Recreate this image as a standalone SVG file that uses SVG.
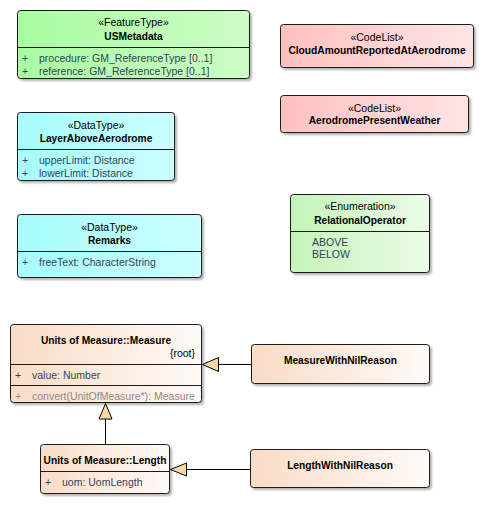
<svg xmlns="http://www.w3.org/2000/svg" width="485" height="523" viewBox="0 0 485 523">
<defs>
<linearGradient id="gFeat" x1="0" y1="0" x2="1" y2="0"><stop offset="0" stop-color="#a8fca0"/><stop offset="1" stop-color="#cdfdc6"/></linearGradient>
<linearGradient id="gCode" x1="0" y1="0" x2="1" y2="0"><stop offset="0" stop-color="#ffc0c0"/><stop offset="1" stop-color="#ffe4e4"/></linearGradient>
<linearGradient id="gData" x1="0" y1="0" x2="1" y2="0"><stop offset="0" stop-color="#a6fcfc"/><stop offset="1" stop-color="#ccffff"/></linearGradient>
<linearGradient id="gEnum" x1="0" y1="0" x2="1" y2="0"><stop offset="0" stop-color="#c4f4b8"/><stop offset="1" stop-color="#ebfbe7"/></linearGradient>
<linearGradient id="gMeas" x1="0" y1="0" x2="1" y2="0"><stop offset="0" stop-color="#f9dcc6"/><stop offset="1" stop-color="#fffaf7"/></linearGradient>
<filter id="sh" x="-10%" y="-10%" width="130%" height="140%"><feDropShadow dx="2" dy="2" stdDeviation="1.2" flood-color="#000" flood-opacity="0.3"/></filter>
</defs>
<style>
.box{stroke:#1a1a1a;stroke-width:1;filter:url(#sh)}
.div{stroke:#1a1a1a;stroke-width:1}
text{font-family:"Liberation Sans",Arial,sans-serif;font-size:10.5px}
.st{text-anchor:middle;fill:#000}
.nm{text-anchor:middle;font-weight:bold;font-size:10.2px;fill:#000}
.at{fill:#34445a}
.op{fill:#8a8a8a}
.con{stroke:#000;stroke-width:1;fill:none}
.tri{fill:#f7d7a6;stroke:#000;stroke-width:1}
</style>

<g id="USMetadata">
<rect class="box" x="17.5" y="10.5" width="232" height="68" rx="3" fill="url(#gFeat)"/>
<line class="div" x1="17.5" y1="47.5" x2="249.5" y2="47.5"/>
<text class="st" x="133.5" y="26">«FeatureType»</text>
<text class="nm" x="133.5" y="39.5">USMetadata</text>
<text class="at" x="22" y="62">+</text><text class="at" x="39" y="62">procedure: GM_ReferenceType [0..1]</text>
<text class="at" x="22" y="75">+</text><text class="at" x="39" y="75">reference: GM_ReferenceType [0..1]</text>
</g>

<g id="CloudAmountReportedAtAerodrome">
<rect class="box" x="280.5" y="24.5" width="193" height="43" rx="3" fill="url(#gCode)"/>
<text class="st" x="377" y="40.5">«CodeList»</text>
<text class="nm" x="377" y="54">CloudAmountReportedAtAerodrome</text>
</g>

<g id="AerodromePresentWeather">
<rect class="box" x="280.5" y="95.5" width="188" height="37" rx="3" fill="url(#gCode)"/>
<text class="st" x="374.5" y="111.5">«CodeList»</text>
<text class="nm" x="374.5" y="124">AerodromePresentWeather</text>
</g>

<g id="LayerAboveAerodrome">
<rect class="box" x="17.5" y="112.5" width="157" height="68" rx="3" fill="url(#gData)"/>
<line class="div" x1="17.5" y1="149.5" x2="174.5" y2="149.5"/>
<text class="st" x="96" y="128.5">«DataType»</text>
<text class="nm" x="96" y="141.5">LayerAboveAerodrome</text>
<text class="at" x="22" y="164">+</text><text class="at" x="39" y="164">upperLimit: Distance</text>
<text class="at" x="22" y="176.5">+</text><text class="at" x="39" y="176.5">lowerLimit: Distance</text>
</g>

<g id="Remarks">
<rect class="box" x="17.5" y="214.5" width="184" height="63" rx="3" fill="url(#gData)"/>
<line class="div" x1="17.5" y1="251.5" x2="201.5" y2="251.5"/>
<text class="st" x="109.5" y="230.5">«DataType»</text>
<text class="nm" x="109.5" y="243.5">Remarks</text>
<text class="at" x="22" y="266">+</text><text class="at" x="39" y="266">freeText: CharacterString</text>
</g>

<g id="RelationalOperator">
<rect class="box" x="290.5" y="194.5" width="139" height="78" rx="3" fill="url(#gEnum)"/>
<line class="div" x1="290.5" y1="231.5" x2="429.5" y2="231.5"/>
<text class="st" x="360" y="210">«Enumeration»</text>
<text class="nm" x="360" y="223.5">RelationalOperator</text>
<text class="at" x="312" y="245.5">ABOVE</text>
<text class="at" x="312" y="258">BELOW</text>
</g>

<g id="Measure">
<rect class="box" x="10.5" y="324.5" width="191" height="78" rx="3" fill="url(#gMeas)"/>
<line class="div" x1="10.5" y1="364.5" x2="201.5" y2="364.5"/>
<line class="div" x1="10.5" y1="385.5" x2="201.5" y2="385.5"/>
<text class="nm" x="106" y="343.5">Units of Measure::Measure</text>
<text x="195" y="357" text-anchor="end" font-size="9.5px" fill="#000">{root}</text>
<text class="at" x="15" y="379">+</text><text class="at" x="32" y="379">value: Number</text>
<text class="op" x="15" y="400">+</text><text class="op" x="32" y="400">convert(UnitOfMeasure*): Measure</text>
</g>

<g id="Length">
<rect class="box" x="40.5" y="444.5" width="129" height="49" rx="3" fill="url(#gMeas)"/>
<line class="div" x1="40.5" y1="471.5" x2="169.5" y2="471.5"/>
<text class="nm" x="105" y="463.5">Units of Measure::Length</text>
<text class="at" x="45" y="485.5">+</text><text class="at" x="62" y="485.5">uom: UomLength</text>
</g>

<g id="MeasureWithNilReason">
<rect class="box" x="251.5" y="344.5" width="178" height="39" rx="3" fill="url(#gMeas)"/>
<text class="nm" x="340.5" y="363.5">MeasureWithNilReason</text>
</g>

<g id="LengthWithNilReason">
<rect class="box" x="250.5" y="449.5" width="179" height="38" rx="3" fill="url(#gMeas)"/>
<text class="nm" x="340" y="468.5">LengthWithNilReason</text>
</g>

<g id="connectors">
<line class="con" x1="251.5" y1="364.5" x2="218.5" y2="364.5"/>
<polygon class="tri" points="202.5,364.5 218.5,357.5 218.5,371.5"/>
<line class="con" x1="105.5" y1="444.5" x2="105.5" y2="419"/>
<polygon class="tri" points="105.5,403.5 99,419 112,419"/>
<line class="con" x1="250.5" y1="469.5" x2="186.5" y2="469.5"/>
<polygon class="tri" points="170.5,469.5 186.5,463 186.5,476"/>
</g>
</svg>
